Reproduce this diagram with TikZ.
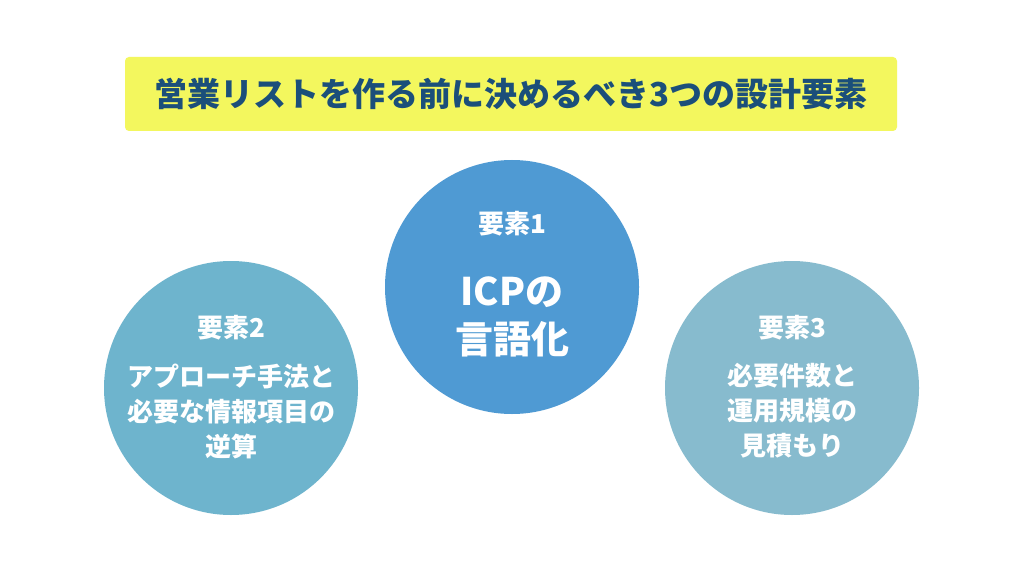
\documentclass[tikz,border=0pt]{standalone}
\usepackage{fontspec}
\setmainfont{Noto Sans CJK JP}
\definecolor{titlebg}{HTML}{F3F75E}
\definecolor{titlefg}{HTML}{1B4F7A}
\definecolor{cone}{HTML}{4F9AD3}
\definecolor{ctwo}{HTML}{6EB4CD}
\definecolor{cthree}{HTML}{87BBCE}
\tikzset{
  circ/.style={circle, minimum size=254pt, inner sep=0pt},
  lbl/.style={text=white, font=\bfseries\fontsize{26}{35}\selectfont, align=center, inner sep=0pt},
  big/.style={text=white, font=\bfseries\fontsize{38}{48}\selectfont, align=center, inner sep=0pt},
}
\begin{document}
\begin{tikzpicture}[x=1pt,y=-1pt]
\useasboundingbox (0,0) rectangle (1024,572);
\fill[white] (0,0) rectangle (1024,572);
\node[fill=titlebg, rounded corners=4pt, minimum width=772pt, minimum height=74pt, inner sep=0pt,
  text=titlefg, font=\bfseries\fontsize{33}{38}\selectfont] (title) at (511,94)
  {営業リストを作る前に決めるべき3つの設計要素};
\node[circ, fill=cone] (c1) at (512,287) {};
\node[circ, fill=ctwo] (c2) at (231,388) {};
\node[circ, fill=cthree] (c3) at (792,388) {};
\node[lbl] (h1) at (512,224) {要素1};
\node[big] (b1) at (512,317) {ICPの\\言語化};
\node[lbl] (h2) at (231,328) {要素2};
\node[lbl] (t2) at (231,411) {アプローチ手法と\\必要な情報項目の\\逆算};
\node[lbl] (h3) at (792,328) {要素3};
\node[lbl] (t3) at (792,411) {必要件数と\\運用規模の\\見積もり};
\end{tikzpicture}
\end{document}
